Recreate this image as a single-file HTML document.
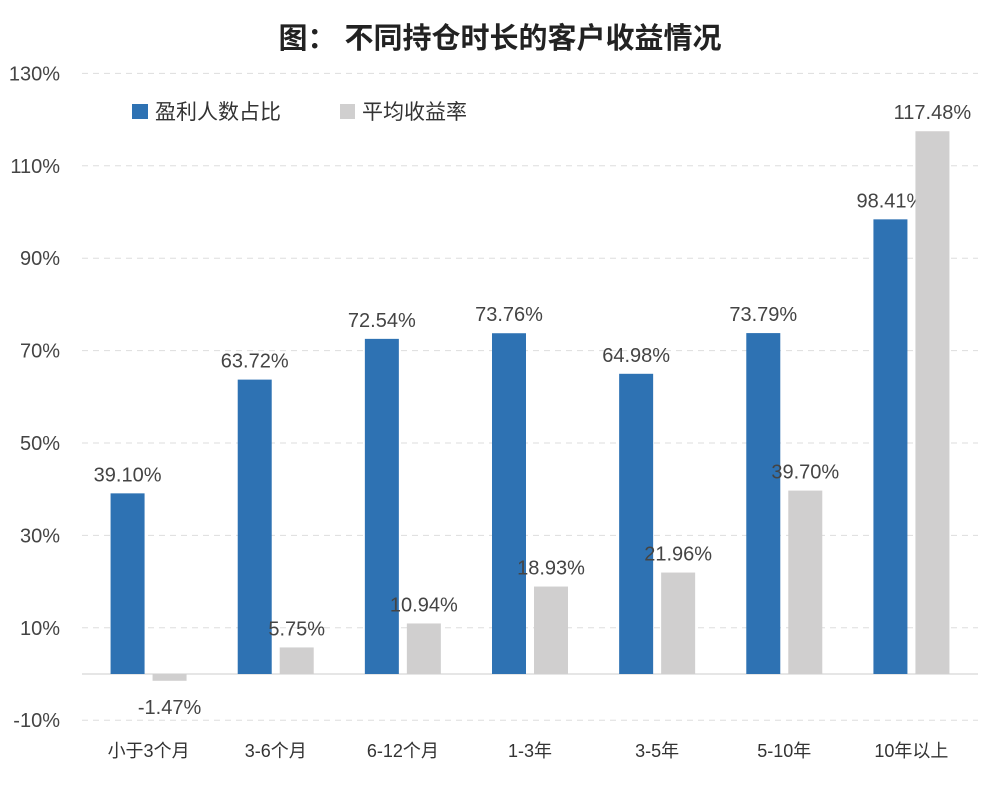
<!DOCTYPE html>
<html><head><meta charset="utf-8"><style>
body{margin:0;background:#fff;width:1000px;height:782px;overflow:hidden}
svg text{font-family:"Liberation Sans","Noto Sans CJK SC",sans-serif}
</style></head><body>
<svg id="chart" width="1000" height="782">
<text x="500" y="48" text-anchor="middle" font-size="29" font-weight="bold" fill="#222">图：  不同持仓时长的客户收益情况</text>
<g>
<rect x="132" y="104" width="16" height="15" fill="#2e72b3"/>
<text x="155" y="119" font-size="21" fill="#333">盈利人数占比</text>
<rect x="340" y="104" width="15" height="15" fill="#d0cfcf"/>
<text x="362" y="119" font-size="21" fill="#333">平均收益率</text>
</g>
<g id="grid"></g><g id="bars"></g>
</svg>
<script>
const categories=["小于3个月","3-6个月","6-12个月","1-3年","3-5年","5-10年","10年以上"];
const profitRatio=[39.10,63.72,72.54,73.76,64.98,73.79,98.41];
const avgReturn=[-1.47,5.75,10.94,18.93,21.96,39.70,117.48];
const ticks=[-10,10,30,50,70,90,110,130];
const NS="http://www.w3.org/2000/svg";
const x0=85,x1=975,bw=(x1-x0)/categories.length;
const y=v=>674-v*4.62;
const xc=i=>x0+bw*(i+0.5);
function mk(t,a,p){const e=document.createElementNS(NS,t);for(const k in a)e.setAttribute(k,a[k]);p.appendChild(e);return e;}
const grid=document.getElementById('grid'),bars=document.getElementById('bars');
ticks.forEach(t=>{
 const l=mk('line',{x1:82,x2:978,y1:y(t),y2:y(t),stroke:'#ddd','stroke-dasharray':'6,5'},grid);
 
 
 const tx=mk('text',{x:60,y:y(t)+7,'text-anchor':'end','font-size':20,fill:'#444'},grid);
 tx.textContent=t+'%';
 
 
});
const base=mk('line',{x1:82,x2:978,y1:y(0),y2:y(0),stroke:'#ccc'},grid);


categories.forEach((c,i)=>{
 const cx=xc(i);
 const series=[[profitRatio[i],cx-38,'#2e72b3','bar-profit-ratio'],[avgReturn[i],cx+4,'#d0cfcf','bar-avg-return']];
 series.forEach(([v,bx,col,nm])=>{
  const top=Math.min(y(v),y(0)),h=Math.abs(y(v)-y(0));
  const r=mk('rect',{x:bx,y:top,width:34,height:h,fill:col},bars);
  
  
  const ly=v>=0?y(v)-12:y(0)+40;
  const t=mk('text',{x:bx+17,y:ly,'text-anchor':'middle','font-size':20,fill:'#444'},bars);
  t.textContent=v.toFixed(2)+'%';
  
  
 });
 const ct=mk('text',{x:cx,y:757,'text-anchor':'middle','font-size':18,fill:'#333'},bars);
 ct.textContent=c;
 
 
});
</script>
</body></html>
